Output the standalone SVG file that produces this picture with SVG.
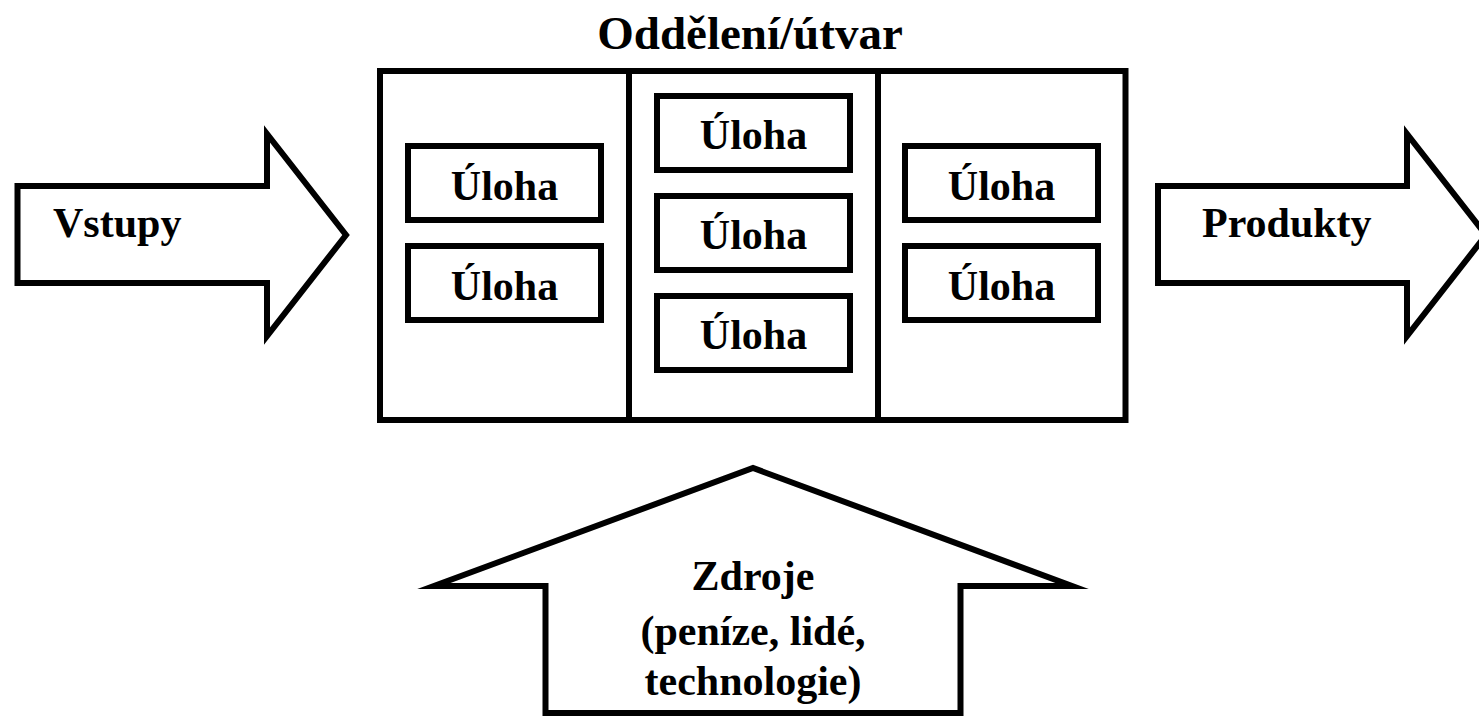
<svg xmlns="http://www.w3.org/2000/svg" width="1479" height="716" viewBox="0 0 1479 716">
<style>
.shape{fill:#fff;stroke:#000;stroke-width:6;stroke-linejoin:miter;stroke-miterlimit:10}
.line{stroke:#000;stroke-width:6;fill:none}
.t{font-family:"Liberation Serif","Times New Roman",serif;font-weight:bold;font-size:42px;fill:#000;text-anchor:middle}
.tl{text-anchor:start}
</style>
<rect width="1479" height="716" fill="#fff"/>
<g id="connectors">
<g id="arrow-vstupy">
<polygon class="shape" points="17.5,186 267,186 267,134 346,235 267,336 267,283 17.5,283"/>
<text class="t tl" x="53" y="237">Vstupy</text>
</g>
<g id="arrow-produkty">
<polygon class="shape" points="1158,186 1407,186 1407,134 1486,235 1407,336 1407,283 1158,283"/>
<text class="t tl" x="1202" y="237">Produkty</text>
</g>
<g id="arrow-zdroje">
<polygon class="shape" points="545.5,713 545.5,586 434,586 753,468 1072,586 960.5,586 960.5,713"/>
<text class="t" x="753" y="590">Zdroje</text>
<text class="t" x="753" y="645">(peníze, lidé,</text>
<text class="t" x="753" y="695">technologie)</text>
</g>
</g>
<g id="department">
<text class="t" x="750" y="49" style="font-size:47px">Oddělení/útvar</text>
<rect class="shape" x="380" y="71" width="745.5" height="349"/>
<line class="line" x1="629" y1="71" x2="629" y2="420"/>
<line class="line" x1="878" y1="71" x2="878" y2="420"/>
</g>
<g id="task-l1"><rect class="shape" x="408" y="146" width="193" height="74"/><text class="t" x="504.5" y="200">Úloha</text></g>
<g id="task-l2"><rect class="shape" x="408" y="246" width="193" height="74"/><text class="t" x="504.5" y="300">Úloha</text></g>
<g id="task-m1"><rect class="shape" x="657" y="96" width="193" height="74"/><text class="t" x="753.5" y="149">Úloha</text></g>
<g id="task-m2"><rect class="shape" x="657" y="196" width="193" height="74"/><text class="t" x="753.5" y="249">Úloha</text></g>
<g id="task-m3"><rect class="shape" x="657" y="296" width="193" height="74"/><text class="t" x="753.5" y="349">Úloha</text></g>
<g id="task-r1"><rect class="shape" x="905" y="146" width="193" height="74"/><text class="t" x="1001.5" y="200">Úloha</text></g>
<g id="task-r2"><rect class="shape" x="905" y="246" width="193" height="74"/><text class="t" x="1001.5" y="300">Úloha</text></g>
</svg>
